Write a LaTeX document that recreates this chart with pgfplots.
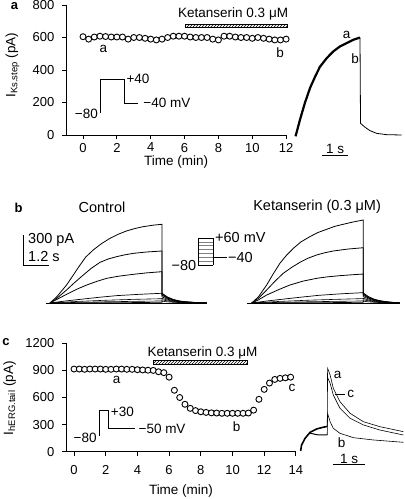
\documentclass[border=0pt]{standalone}
\usepackage{fontspec}
\setmainfont{Liberation Sans}
\usepackage{pgfplots}
\pgfplotsset{compat=1.18}
\usetikzlibrary{patterns}

\pgfplotsset{
  myaxis/.style={
    scale only axis, axis lines=left, axis line style={-, line width=0.8pt},
    tick align=outside, major tick length=4pt, tick style={black, line width=0.8pt},
    /pgf/number format/assume math mode=true,
    /pgf/number format/1000 sep={},
    ticklabel style={font=\fontsize{13}{15}\selectfont},
    label style={font=\fontsize{13.5}{16}\selectfont},
    yticklabel style={xshift=-4.2pt},
    clip=false,
  },
  traceaxis/.style={scale only axis, hide axis, clip=false},
  circ/.style={only marks, mark=*, mark size=3pt, mark options={fill=white, draw=black, line width=0.9pt}},
}
\newcommand{\fa}{\fontsize{13.5}{15}\selectfont}
\newcommand{\fb}{\fontsize{14.5}{16}\selectfont}

\begin{document}
\begin{tikzpicture}
\useasboundingbox (0,0) rectangle (405pt,499pt);

% panel letters
\node[font=\bfseries\fontsize{13}{15}\selectfont] at (14.5pt,492.5pt) {a};
\node[font=\bfseries\fontsize{13}{15}\selectfont] at (18.5pt,291.5pt) {b};
\node[font=\bfseries\fontsize{13}{15}\selectfont] at (6pt,156.5pt) {c};

% ---------------- panel a ----------------
\begin{axis}[myaxis, at={(66.1pt,364pt)}, anchor=south west, width=220pt, height=130pt,
  xmin=-1, xmax=12, ymin=0, ymax=800, xtick={0,2,...,12}, ytick={0,200,...,800},
  xticklabel style={yshift=-0.5pt},
  xlabel={Time (min)}, ylabel={I\textsubscript{Ks.step} (pA)},
  xlabel style={at={(axis description cs:0.5,0)}, anchor=center, yshift=-27.5pt},
  ylabel style={at={(axis description cs:-0.2436,0.538)}, anchor=center}]
\addplot[circ] coordinates {
(0,605) (0.333,590) (0.667,603) (1,608) (1.333,606) (1.667,603) (2,603) (2.333,603)
(2.667,590) (3,600) (3.333,600) (3.667,595) (4,590) (4.333,585) (4.667,590) (5,600)
(5.333,608) (5.667,608) (6,608) (6.333,603) (6.667,600) (7,600) (7.333,600) (7.667,590)
(8,585) (8.333,608) (8.667,608) (9,603) (9.333,600) (9.667,600) (10,595) (10.333,600)
(10.667,595) (11,590) (11.333,585) (11.667,585) (12,590)};
\addplot[black, line width=0.8pt] coordinates {(1.0,136) (1.0,345) (2.42,345) (2.42,195) (3.27,195)};
\node[anchor=east, font=\fa, inner sep=1pt] at (axis cs:0.95,130) {−80};
\node[anchor=west, font=\fa, inner sep=1pt] at (axis cs:2.5,345) {+40};
\node[anchor=west, font=\fa, inner sep=1pt] at (axis cs:3.5,195) {−40 mV};
\addplot[draw=black, line width=0.6pt, pattern=north east lines] coordinates {(6.03,660) (12.1,660) (12.1,681) (6.03,681) (6.03,660)};
\node[font=\fa] at (axis cs:8.87,747) {Ketanserin 0.3 μM};
\node[font=\fa] at (axis cs:1.2,530) {a};
\node[font=\fa] at (axis cs:11.65,508) {b};
\end{axis}

\begin{axis}[traceaxis, at={(295pt,364pt)}, anchor=south west, width=106.6pt, height=130pt,
  xmin=0, xmax=4.1, ymin=0, ymax=800]
\addplot[black, line width=2.2pt, line join=round] coordinates {
(0.02,-8) (0.06,15) (0.19,93) (0.38,197) (0.58,290) (0.77,358) (0.96,420) (1.22,473) (1.47,514)
(1.73,545) (1.99,566) (2.24,586) (2.5,600)};
\addplot[black, line width=0.8pt] coordinates {
(2.5,600) (2.52,72) (2.69,48) (2.88,27) (3.14,10) (3.53,2) (4.1,0)};
\addplot[black, line width=0.8pt] coordinates {(1.04,-123) (2.04,-123)};
\node[anchor=south, font=\fa, inner sep=1pt] at (axis cs:1.54,-123) {1 s};
\node[font=\fa] at (axis cs:1.99,617) {a};
\node[font=\fa] at (axis cs:2.31,469) {b};
\end{axis}

% ---------------- panel b ----------------
\begin{axis}[traceaxis, at={(45.52pt,196pt)}, anchor=south west, width=161.28pt, height=81.9pt,
  xmin=-0.2, xmax=7, ymin=0, ymax=800]
\node[font=\fb] at (axis cs:2.32,938) {Control};
\addplot[black, line width=0.8pt] coordinates {(-1.19,664) (-1.19,364) (-0.03,364)};
\node[anchor=west, font=\fb, inner sep=0pt] at (axis cs:-0.98,615) {300 pA};
\node[anchor=west, font=\fb, inner sep=0pt] at (axis cs:-0.98,452) {1.2 s};
\addplot[black, line width=0.7pt] coordinates {(-0.2,0) (7,0)};
\addplot[black, line width=0.8pt] coordinates {
(0,0) (0.3,60) (0.74,176) (1.0,260) (1.34,371) (1.6,450) (1.93,518) (2.3,580) (2.68,632) (3.05,672)
(3.42,704) (3.8,728) (4.17,746) (4.6,760) (5.0,769) (5.0,95) (5.25,58) (5.5,35) (5.75,21) (6.0,13) (6.5,5) (7.0,0)};
\addplot[black, line width=0.8pt] coordinates {
(0,0) (0.3,45) (0.74,127) (1.1,200) (1.49,274) (1.85,340) (2.23,397) (2.6,430) (2.98,453) (3.35,471)
(3.72,485) (4.3,498) (5.0,508) (5.0,85) (5.25,52) (5.5,31) (5.75,19) (6.0,11) (6.5,4) (7.0,0)};
\addplot[black, line width=0.8pt] coordinates {
(0,0) (0.35,40) (0.74,85) (1.2,135) (1.64,176) (2.1,212) (2.53,241) (3.1,263) (3.72,280) (4.3,294) (5.0,306)
(5.0,75) (5.25,46) (5.5,28) (5.75,17) (6.0,10) (6.5,4) (7.0,0)};
\addplot[black, line width=0.7pt] coordinates {
(0,0) (0.7,20) (1.49,39) (2.2,56) (2.98,72) (4.0,85) (5.0,95) (5.0,60) (5.25,37) (5.5,22) (5.75,13) (6.0,8) (6.5,3) (7.0,0)};
\addplot[black, line width=0.6pt] coordinates {
(0,0) (1.2,15) (2.5,27) (3.8,36) (5.0,42) (5.0,45) (5.25,28) (5.5,17) (5.75,10) (6.0,6) (6.5,2) (7.0,0)};
\addplot[black, line width=0.6pt] coordinates {
(0,0) (2.5,12) (5.0,20) (5.0,32) (5.25,20) (5.5,12) (6.0,4) (6.5,1) (7.0,0)};
\addplot[black, line width=0.6pt] coordinates {
(0,0) (5.0,6) (5.0,18) (5.25,11) (5.5,7) (6.0,2) (7.0,0)};
\end{axis}

\begin{axis}[traceaxis, at={(198pt,234pt)}, anchor=south west, width=29pt, height=27pt,
  xmin=0, xmax=1, ymin=-80, ymax=60]
\foreach \L in {-60,-40,...,40} {
  \addplot[gray, line width=0.5pt] coordinates {(0,\L) (0.517,\L)};
}
\addplot[black, line width=0.7pt] coordinates {(0.517,-40) (1,-40)};
\addplot[black, line width=0.7pt] coordinates {(0.517,-80) (0,-80) (0,60) (0.517,60) (0.517,-80)};
\node[anchor=west, font=\fb, inner sep=1pt] at (axis cs:0.55,60) {+60 mV};
\node[anchor=west, font=\fb, inner sep=1pt] at (axis cs:1.0,-40) {−40};
\node[anchor=east, font=\fb, inner sep=1pt] at (axis cs:-0.02,-84) {−80};
\end{axis}

\begin{axis}[traceaxis, at={(247.2pt,196pt)}, anchor=south west, width=152.3pt, height=81.9pt,
  xmin=-0.2, xmax=6.6, ymin=0, ymax=800]
\node[font=\fb] at (axis cs:2.92,938) {Ketanserin (0.3 μM)};
\addplot[black, line width=0.7pt] coordinates {(-0.2,0) (6.6,0)};
\addplot[black, line width=0.8pt] coordinates {
(0,0) (0.3,60) (0.67,176) (0.95,280) (1.26,388) (1.55,465) (1.86,534) (2.2,597) (2.6,648) (2.95,688)
(3.35,720) (3.7,748) (4.09,769) (4.5,790) (4.98,811) (4.98,98) (5.23,60) (5.48,36) (5.73,22) (5.98,13) (6.3,6) (6.6,2)};
\addplot[black, line width=0.8pt] coordinates {
(0,0) (0.3,45) (0.67,127) (1.05,215) (1.41,290) (1.8,350) (2.16,398) (2.5,436) (2.9,469) (3.25,490)
(3.64,508) (4.3,527) (4.98,540) (4.98,88) (5.23,54) (5.48,32) (5.73,20) (5.98,12) (6.3,5) (6.6,2)};
\addplot[black, line width=0.8pt] coordinates {
(0,0) (0.3,30) (0.67,78) (1.2,130) (1.71,176) (2.3,214) (2.9,241) (3.4,256) (3.94,267) (4.5,276) (4.98,283)
(4.98,77) (5.23,47) (5.48,29) (5.73,18) (5.98,10) (6.3,4) (6.6,1)};
\addplot[black, line width=0.7pt] coordinates {
(0,0) (0.7,20) (1.5,40) (2.2,57) (3.0,75) (4.0,90) (4.98,101) (4.98,62) (5.23,38) (5.48,23) (5.73,14) (5.98,8) (6.3,3) (6.6,1)};
\addplot[black, line width=0.6pt] coordinates {
(0,0) (1.2,15) (2.5,27) (3.8,36) (4.98,43) (4.98,46) (5.23,28) (5.48,17) (5.73,10) (5.98,6) (6.3,2) (6.6,0)};
\addplot[black, line width=0.6pt] coordinates {
(0,0) (2.5,12) (4.98,20) (4.98,32) (5.23,20) (5.48,12) (5.98,4) (6.6,0)};
\addplot[black, line width=0.6pt] coordinates {
(0,0) (4.98,6) (4.98,18) (5.23,11) (5.48,7) (5.98,2) (6.6,0)};
\end{axis}

% ---------------- panel c ----------------
\begin{axis}[myaxis, at={(66.1pt,47.3pt)}, anchor=south west, width=229.8pt, height=108.4pt,
  xmin=-0.5, xmax=14, ymin=0, ymax=1200, xtick={0,2,...,14}, ytick={0,300,...,1200},
  xticklabel style={yshift=-6pt},
  xlabel={Time (min)}, ylabel={I\textsubscript{hERG.tail} (pA)},
  xlabel style={at={(axis description cs:0.5,0)}, anchor=center, yshift=-39.5pt},
  ylabel style={at={(axis description cs:-0.246,0.495)}, anchor=center}]
\addplot[circ] coordinates {
(0,915) (0.333,915) (0.667,912) (1,915) (1.333,915) (1.667,915) (2,912) (2.333,912)
(2.667,915) (3,915) (3.333,912) (3.667,912) (4,908) (4.333,905) (4.667,902) (5,900)
(5.333,885) (5.667,875) (6,825) (6.333,680) (6.667,600) (7,525) (7.333,480) (7.667,455)
(8,442) (8.333,435) (8.667,430) (9,428) (9.333,425) (9.667,425) (10,425) (10.333,425)
(10.667,425) (11,428) (11.333,460) (11.667,580) (12,690) (12.333,760) (12.667,800) (13,812)
(13.333,818) (13.667,825)};
\addplot[black, line width=0.8pt] coordinates {(1.58,174) (1.58,462) (2.17,462) (2.17,259) (3.85,259)};
\node[anchor=east, font=\fa, inner sep=1pt] at (axis cs:1.5,150) {−80};
\node[anchor=west, font=\fa, inner sep=1pt] at (axis cs:2.25,445) {+30};
\node[anchor=west, font=\fa, inner sep=1pt] at (axis cs:4.0,248) {−50 mV};
\addplot[draw=black, line width=0.6pt, pattern=north east lines] coordinates {(5.0,972) (10.96,972) (10.96,1008) (5.0,1008) (5.0,972)};
\node[font=\fa] at (axis cs:8.11,1097) {Ketanserin 0.3 μM};
\node[font=\fa] at (axis cs:2.69,794) {a};
\node[font=\fa] at (axis cs:10.26,277) {b};
\node[font=\fa] at (axis cs:13.75,705) {c};
\end{axis}

\begin{axis}[traceaxis, at={(300pt,47.3pt)}, anchor=south west, width=104.6pt, height=108.4pt,
  xmin=0, xmax=3.3, ymin=0, ymax=1200]
\addplot[black, line width=1.6pt] coordinates {
(0.02,8) (0.05,74) (0.16,148) (0.32,215) (0.53,252) (0.7,268) (0.86,280)};
\addplot[black, line width=1.0pt] coordinates {
(0.32,205) (0.53,188) (0.7,185) (0.86,185)};
\addplot[black, line width=0.6pt] coordinates {
(0.86,280) (0.87,924) (0.95,850) (1.05,702) (1.26,554) (1.58,425) (2.0,332) (2.52,277) (3.26,222)};
\addplot[black, line width=0.6pt] coordinates {
(0.87,820) (0.95,758) (1.05,628) (1.26,481) (1.58,370) (2.0,296) (2.52,240) (3.26,185)};
\addplot[black, line width=0.6pt] coordinates {
(0.86,185) (0.87,425) (0.95,332) (1.05,259) (1.26,204) (1.69,155) (2.31,130) (3.26,104)};
\addplot[black, line width=0.6pt] coordinates {(1.10,636) (1.42,636)};
\addplot[black, line width=0.8pt] coordinates {(1.05,-140) (2.05,-140)};
\node[anchor=south, font=\fa, inner sep=1pt] at (axis cs:1.55,-140) {1 s};
\node[font=\fa] at (axis cs:1.19,850) {a};
\node[font=\fa] at (axis cs:1.6,636) {c};
\node[font=\fa] at (axis cs:1.31,104) {b};
\end{axis}
\end{tikzpicture}
\end{document}
